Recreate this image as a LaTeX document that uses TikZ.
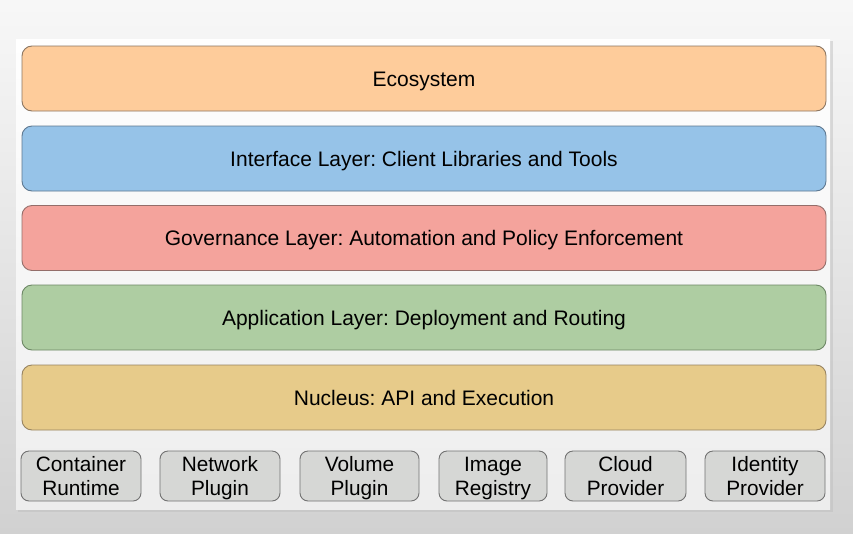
\documentclass[tikz,border=0pt]{standalone}
\usepackage{fontspec}
\setmainfont{Liberation Sans}
\frenchspacing
\definecolor{ecofill}{HTML}{FECC9B}
\definecolor{ecoline}{HTML}{8C7662}
\definecolor{ifacefill}{HTML}{96C3E8}
\definecolor{ifaceline}{HTML}{5E7890}
\definecolor{govfill}{HTML}{F4A39C}
\definecolor{govline}{HTML}{946E6A}
\definecolor{appfill}{HTML}{AECDA2}
\definecolor{appline}{HTML}{6D8765}
\definecolor{nucfill}{HTML}{E7CB8A}
\definecolor{nucline}{HTML}{978360}
\definecolor{plugfill}{HTML}{D6D7D5}
\definecolor{plugline}{HTML}{727272}
\tikzset{
  layer/.style={draw, line width=0.9pt, rounded corners=10pt, minimum width=804pt,
    minimum height=65pt, inner sep=0pt, text height=15pt, text depth=0pt,
    font=\fontsize{21}{24}\selectfont},
  plugin/.style={draw=plugline, fill=plugfill, line width=0.9pt, rounded corners=8pt,
    minimum height=50pt, inner sep=0pt, align=center, text depth=0pt,
    font=\fontsize{20.8}{24}\selectfont}
}
\begin{document}
\begin{tikzpicture}[x=1pt,y=-1pt]
  \shade[top color=white!94!gray, bottom color=black!18] (0,0) rectangle (853,533);
  \fill[black!25, opacity=0.5] (18,41) rectangle (833,512);
  \shade[top color=white, bottom color=white!86!gray] (16,39) rectangle (830,509);
  \path
    (424,78.5) node[layer, draw=ecoline, fill=ecofill] (eco){Ecosystem}
    (424,158.5) node[layer, draw=ifaceline, fill=ifacefill] (iface){Interface Layer: Client Libraries and Tools}
    (424,238) node[layer, draw=govline, fill=govfill] (gov){Governance Layer: Automation and Policy Enforcement}
    (424,317.5) node[layer, draw=appline, fill=appfill] (app){Application Layer: Deployment and Routing}
    (424,397.5) node[layer, draw=nucline, fill=nucfill] (nuc){Nucleus: API and Execution};
  \path
    (81,476) node[plugin, minimum width=120pt] (runtime){Container\\Runtime}
    (220,476) node[plugin, minimum width=120pt] (network){Network\\Plugin}
    (359.5,476) node[plugin, minimum width=119pt] (volume){Volume\\Plugin}
    (493,476) node[plugin, minimum width=108pt] (registry){Image\\Registry}
    (625.5,476) node[plugin, minimum width=121pt] (cloud){Cloud\\Provider}
    (765,476) node[plugin, minimum width=120pt] (identity){Identity\\Provider};
\end{tikzpicture}
\end{document}
